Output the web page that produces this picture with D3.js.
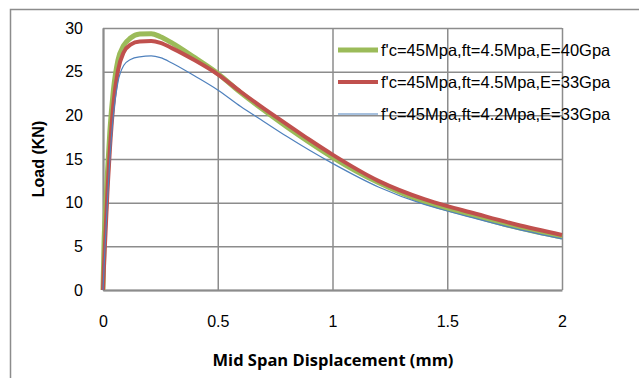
<!DOCTYPE html>
<html>
<head>
<meta charset="utf-8">
<script src="https://cdn.jsdelivr.net/npm/d3@7"></script>
<style>
  body { margin: 0; background: #fff; }
  svg { display: block; }
  .tick text { font-family: "Liberation Sans", Arial, sans-serif; font-size: 16px; fill: #000; }
  .legend text { font-family: "Liberation Sans", Arial, sans-serif; font-size: 16.5px; fill: #000; }
</style>
</head>
<body>
<div id="chart"></div>
<script>
// Mid span displacement (mm)
const displacement = [0, 0.005, 0.01, 0.02, 0.03, 0.045, 0.065, 0.09, 0.12, 0.16, 0.21, 0.25, 0.3, 0.4, 0.5,
  0.6, 0.7, 0.8, 0.9, 1.0, 1.2, 1.4, 1.5, 1.6, 1.8, 2.0];

// Load (KN) per series
const loadE40 = [0, 5.8, 8.5, 13.7, 18.2, 22.8, 26.3, 28.0, 28.85, 29.3, 29.35, 29.0, 28.3, 26.6, 24.8,
  22.6, 20.6, 18.7, 16.9, 15.2, 12.3, 10.1, 9.3, 8.6, 7.2, 6.05];
const loadE33 = [0, 3.2, 6.0, 11.6, 16.1, 21.2, 25.1, 27.2, 28.1, 28.45, 28.5, 28.3, 27.7, 26.3, 24.7,
  22.7, 20.8, 19.0, 17.2, 15.5, 12.5, 10.4, 9.6, 8.9, 7.5, 6.3];
const loadFt42 = [0, 2.8, 5.5, 10.5, 15.0, 20.0, 23.8, 25.7, 26.4, 26.7, 26.8, 26.6, 26.0, 24.5, 22.9,
  21.0, 19.3, 17.6, 16.0, 14.5, 11.8, 9.8, 9.05, 8.35, 7.0, 5.85];

const seriesNames = ["f'c=45Mpa,ft=4.5Mpa,E=40Gpa", "f'c=45Mpa,ft=4.5Mpa,E=33Gpa", "f'c=45Mpa,ft=4.2Mpa,E=33Gpa"];
const xTicks = [0, 0.5, 1, 1.5, 2];
const yTicks = [0, 5, 10, 15, 20, 25, 30];

const series = [
  { name: seriesNames[0], values: loadE40, color: "#9bbb59", width: 5 },
  { name: seriesNames[1], values: loadE33, color: "#c0504d", width: 4 },
  { name: seriesNames[2], values: loadFt42, color: "#4f81bd", width: 1.2 }
];

const W = 639, H = 378;
const margin = { top: 28, right: 77, bottom: 88, left: 103 };
const width = W - margin.left - margin.right;
const height = H - margin.top - margin.bottom;
const gridColor = "#8c8c8c";

const svg = d3.select("#chart").append("svg")
  .attr("width", W)
  .attr("height", H);

// outer chart frame
svg.append("path")
  .attr("d", `M10.5,${H}V9.5H${W}`)
  .attr("fill", "none")
  .attr("stroke", gridColor)
  .attr("stroke-width", 1.5);

const g = svg.append("g")
  .attr("transform", `translate(${margin.left},${margin.top})`);

const x = d3.scaleLinear().domain([0, 2]).range([0, width]);
const y = d3.scaleLinear().domain([0, 30]).range([height, 0]);

// gridlines
g.append("g")
  .call(d3.axisLeft(y).tickValues(yTicks).tickSize(-width).tickFormat(""))
  .call(a => a.select(".domain").remove())
  .selectAll("line").attr("stroke", gridColor).attr("stroke-width", 1.5);

g.append("g")
  .attr("transform", `translate(0,${height})`)
  .call(d3.axisBottom(x).tickValues(xTicks).tickSize(-height).tickFormat(""))
  .call(a => a.select(".domain").remove())
  .selectAll("line").attr("stroke", gridColor).attr("stroke-width", 1.5);

// axes
g.append("g")
  .call(d3.axisLeft(y).tickValues(yTicks).tickSize(0).tickPadding(20))
  .call(a => a.select(".domain").attr("stroke", gridColor).attr("stroke-width", 2));

g.append("g")
  .attr("transform", `translate(0,${height})`)
  .call(d3.axisBottom(x).tickValues(xTicks).tickSize(0).tickPadding(26).tickFormat(d3.format("")))
  .call(a => a.select(".domain").attr("stroke", gridColor).attr("stroke-width", 2));

// legend (drawn under the curves, over the grid)
const legend = g.append("g").attr("class", "legend")
  .attr("transform", `translate(${338 - margin.left},${50 - margin.top})`);

series.forEach((s, i) => {
  const row = legend.append("g").attr("transform", `translate(0,${i * 32})`);
  row.append("line")
    .attr("x1", 0).attr("x2", 40)
    .attr("stroke", s.color)
    .attr("stroke-width", s.width);
  row.append("text")
    .attr("x", 43)
    .attr("dy", "0.35em")
    .text(s.name);
});

// curves
const line = d3.line()
  .x((d, i) => x(displacement[i]))
  .y(d => y(d))
  .curve(d3.curveMonotoneX);

g.selectAll(".curve")
  .data(series)
  .join("path")
  .attr("class", "curve")
  .attr("fill", "none")
  .attr("stroke", d => d.color)
  .attr("stroke-width", d => d.width)
  .attr("stroke-linejoin", "round")
  .attr("d", d => line(d.values));

// axis titles
svg.append("text")
  .attr("x", 333)
  .attr("y", 366)
  .attr("text-anchor", "middle")
  .style("font-family", "'Open Sans', sans-serif")
  .style("font-weight", "bold")
  .style("font-size", "16.5px")
  .text("Mid Span Displacement (mm)");

svg.append("text")
  .attr("transform", `translate(44,${159}) rotate(-90)`)
  .attr("text-anchor", "middle")
  .style("font-family", "'Liberation Sans', Arial, sans-serif")
  .style("font-weight", "bold")
  .style("font-size", "16px")
  .text("Load (KN)");
</script>
</body>
</html>
